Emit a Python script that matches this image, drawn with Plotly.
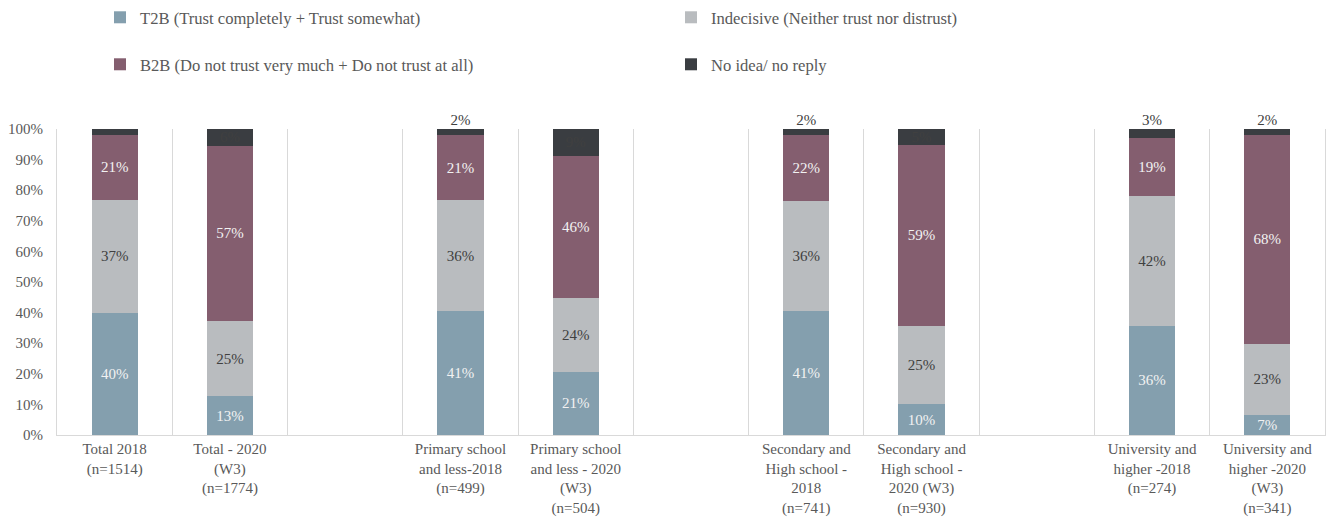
import plotly.graph_objects as go

categories = [
    "Total 2018<br>(n=1514)",
    "Total - 2020<br>(W3)<br>(n=1774)",
    " ",
    "Primary school<br>and less-2018<br>(n=499)",
    "Primary school<br>and less - 2020<br>(W3)<br>(n=504)",
    "  ",
    "Secondary and<br>High school -<br>2018<br>(n=741)",
    "Secondary and<br>High school -<br>2020 (W3)<br>(n=930)",
    "   ",
    "University and<br>higher -2018<br>(n=274)",
    "University and<br>higher -2020<br>(W3)<br>(n=341)",
]

t2b = [40.0, 12.6, None, 40.6, 20.7, None, 40.6, 10.1, None, 35.7, 6.6]
indecisive = [36.9, 24.7, None, 36.1, 24.2, None, 36.0, 25.4, None, 42.4, 23.2]
b2b = [21.2, 57.2, None, 21.4, 46.3, None, 21.6, 59.4, None, 19.0, 68.4]
no_idea = [1.9, 5.5, None, 1.9, 8.8, None, 1.8, 5.1, None, 2.9, 1.8]

ytick_vals = [0, 10, 20, 30, 40, 50, 60, 70, 80, 90, 100]
ytick_text = ["0%", "10%", "20%", "30%", "40%", "50%", "60%", "70%", "80%", "90%", "100%"]

series_names = [
    "T2B (Trust completely + Trust somewhat)",
    "Indecisive (Neither trust nor distrust)",
    "B2B (Do not trust very much + Do not trust at all)",
    "No idea/ no reply",
]
colors = ["#849fae", "#b9bcbf", "#845e6f", "#3a3d41"]
label_colors = ["#f2f2f2", "#404040", "#f2f2f2", "#404040"]
legend_ids = ["legend", "legend", "legend2", "legend2"]

FONT = "Liberation Serif"
SMALL = 4  # segments thinner than this get their label above the bar


def fmt(v):
    return "" if v is None else f"{v:.0f}%"


fig = go.Figure()
for name, vals, col, lcol, lg in zip(series_names, [t2b, indecisive, b2b, no_idea],
                                     colors, label_colors, legend_ids):
    is_top = name.startswith("No idea")
    if is_top:
        txt = [("" if (v is None or v < SMALL) else fmt(v)) for v in vals]
    else:
        txt = [fmt(v) for v in vals]
    fig.add_trace(go.Bar(
        x=categories, y=vals, name=name, marker_color=col,
        marker_line_width=0,
        text=txt, textposition="inside", texttemplate="%{text}",
        insidetextanchor="middle",
        textfont=dict(family=FONT, size=15, color=lcol),
        constraintext="none",
        legend=lg, hoverinfo="skip",
    ))

# labels for thin top segments, placed just above the stack
totals = [None if a is None else a + b + c + d
          for a, b, c, d in zip(t2b, indecisive, b2b, no_idea)]
top_text = [("" if (v is None or v >= SMALL) else fmt(v)) for v in no_idea]
fig.add_trace(go.Scatter(
    x=categories, y=totals, mode="text", text=top_text,
    textposition="top center",
    textfont=dict(family=FONT, size=15, color="#404040"),
    showlegend=False, cliponaxis=False, hoverinfo="skip",
))

legend_common = dict(orientation="h", xref="container", yref="container",
                     xanchor="left", yanchor="top", entrywidth=526,
                     font=dict(family=FONT, size=16.6, color="#595959"),
                     itemwidth=30, traceorder="normal", bgcolor="rgba(0,0,0,0)")

fig.update_layout(
    barmode="stack",
    bargap=0.6,
    width=1330, height=519,
    margin=dict(l=57, r=5, t=129, b=84, autoexpand=False),
    plot_bgcolor="white", paper_bgcolor="white",
    font=dict(family=FONT, color="#595959"),
    uniformtext=dict(minsize=15, mode="show"),
    legend=dict(x=100 / 1330, y=1.0, **legend_common),
    legend2=dict(x=100 / 1330, y=1.0 - 47 / 519, **legend_common),
    xaxis=dict(type="category", categoryorder="array", categoryarray=categories,
               range=[-0.5, len(categories) - 0.5], autorange=False,
               tickson="boundaries", showgrid=True, gridcolor="#d9d9d9", gridwidth=1,
               ticks="", showline=True, linecolor="#d9d9d9", linewidth=1,
               tickfont=dict(family=FONT, size=15, color="#595959"),
               tickangle=0, automargin=False),
    yaxis=dict(range=[0, 100], tickmode="array", tickvals=ytick_vals, ticktext=ytick_text,
               showgrid=False, zeroline=False, showline=True, mirror=True,
               linecolor="#d9d9d9", ticks="", ticklabelstandoff=10,
               tickfont=dict(family=FONT, size=15, color="#595959"),
               automargin=False),
)

fig.write_html("out.html", config={"displayModeBar": False},
               post_script="document.body.style.margin='0';document.body.style.overflow='hidden';")
